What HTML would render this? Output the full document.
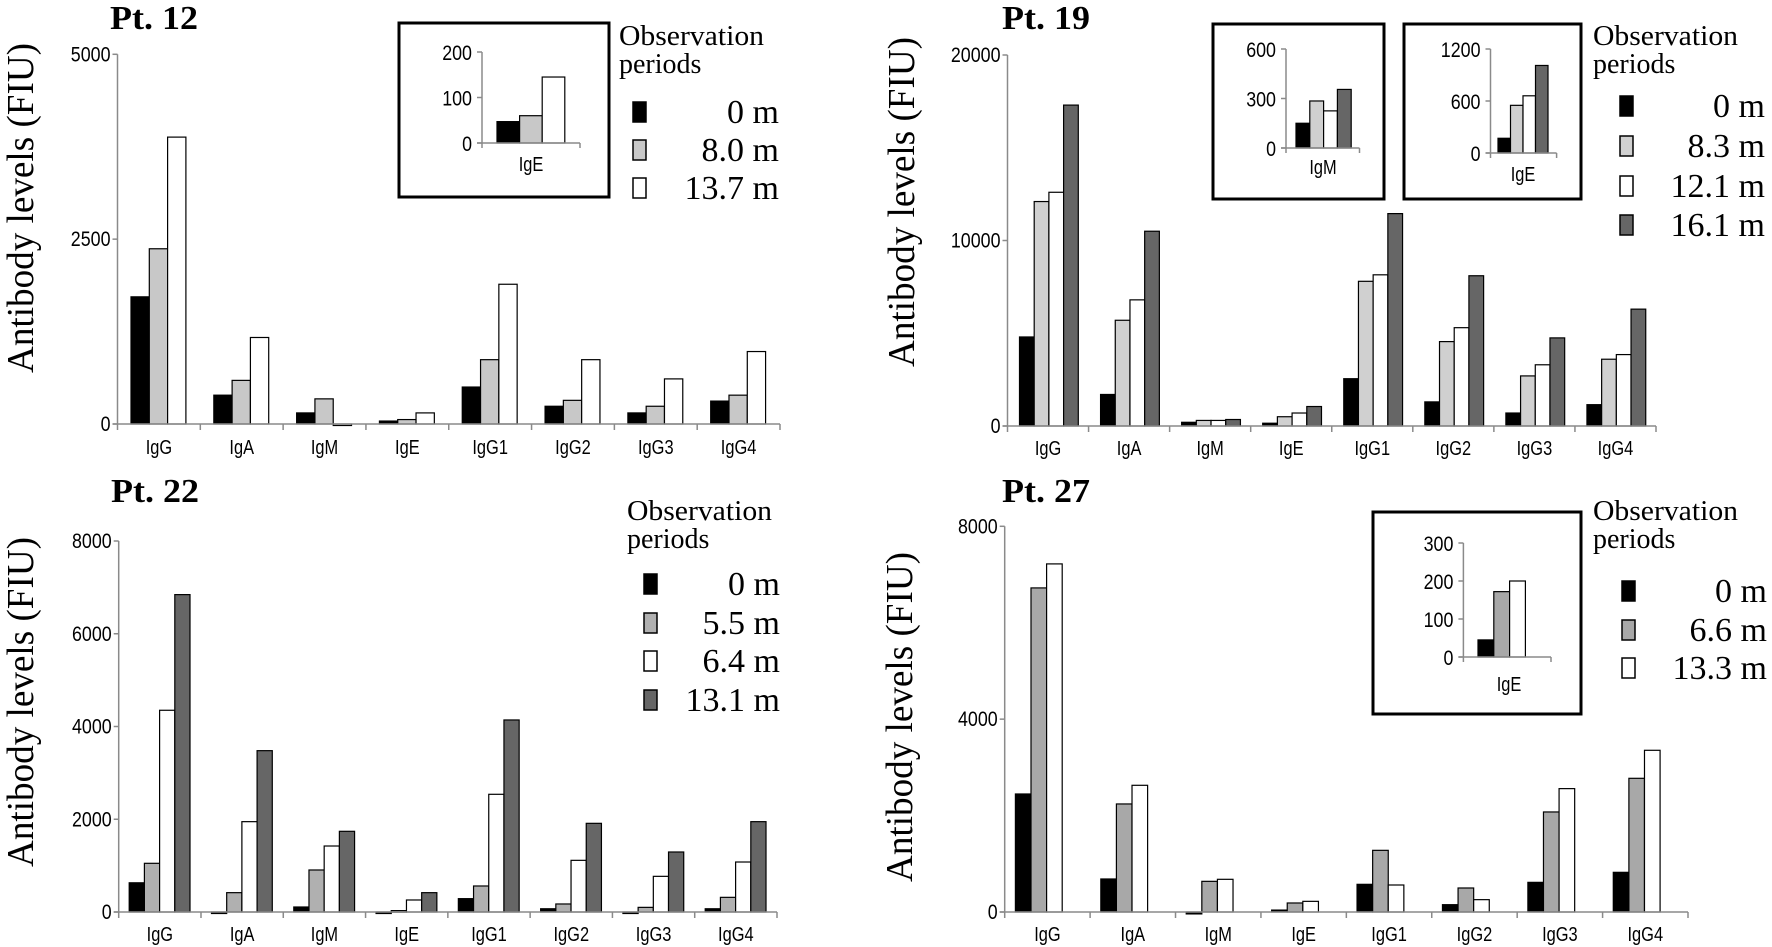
<!DOCTYPE html>
<html><head><meta charset="utf-8"><style>
html,body{margin:0;padding:0;background:#fff;}
svg{display:block;}
.tick{font-family:"Liberation Sans",sans-serif;font-size:21px;fill:#000;}
.cat{font-family:"Liberation Sans",sans-serif;font-size:20px;fill:#000;}
.serif{font-family:"Liberation Serif",serif;fill:#000;}
</style></head><body>
<svg id="fig" width="1772" height="947" viewBox="0 0 1772 947" xmlns="http://www.w3.org/2000/svg"></svg>
<script>
const categories = ['IgG','IgA','IgM','IgE','IgG1','IgG2','IgG3','IgG4'];

const pt12Periods = ['0 m','8.0 m','13.7 m'];
const pt12Month0 = [1720,390,150,40,500,240,150,310];
const pt12Month8 = [2370,590,340,60,870,320,240,390];
const pt12Month13 = [3880,1170,-20,150,1890,870,610,980];
const pt12Ticks = [0,2500,5000];
const pt12InsetIgE = [47,60,145];
const pt12InsetTicks = [0,100,200];

const pt19Periods = ['0 m','8.3 m','12.1 m','16.1 m'];
const pt19Month0 = [4800,1700,200,150,2550,1300,700,1150];
const pt19Month8 = [12100,5700,300,500,7800,4550,2700,3600];
const pt19Month12 = [12600,6800,300,700,8150,5300,3300,3850];
const pt19Month16 = [17300,10500,350,1050,11450,8100,4750,6300];
const pt19Ticks = [0,10000,20000];
const pt19InsetIgM = [150,285,225,355];
const pt19InsetIgMTicks = [0,300,600];
const pt19InsetIgE = [170,550,660,1010];
const pt19InsetIgETicks = [0,600,1200];

const pt22Periods = ['0 m','5.5 m','6.4 m','13.1 m'];
const pt22Month0 = [630,-20,108,-20,288,70,-20,70];
const pt22Month5 = [1050,417,906,30,561,173,100,316];
const pt22Month6 = [4350,1948,1423,259,2538,1114,769,1078];
const pt22Month13 = [6844,3479,1740,417,4141,1912,1294,1948];
const pt22Ticks = [0,2000,4000,6000,8000];

const pt27Periods = ['0 m','6.6 m','13.3 m'];
const pt27Month0 = [2448,685,-40,40,574,152,615,823];
const pt27Month6 = [6722,2241,636,187,1279,498,2075,2773];
const pt27Month13 = [7220,2628,678,221,560,256,2559,3354];
const pt27Ticks = [0,4000,8000];
const pt27InsetIgE = [45,172,200];
const pt27InsetTicks = [0,100,200,300];

const NS='http://www.w3.org/2000/svg';
const svg=document.getElementById('fig');
function mk(tag,attrs,parent){const e=document.createElementNS(NS,tag);for(const k in attrs)e.setAttribute(k,attrs[k]);(parent||svg).appendChild(e);return e;}
function txt(s,attrs,parent){const e=mk('text',attrs,parent);e.textContent=s;return e;}
function narrow(e,f){const w=e.getComputedTextLength();if(w>0){e.setAttribute('textLength',(w*f).toFixed(1));e.setAttribute('lengthAdjust','spacingAndGlyphs');}}

function panel(o){
  const g=mk('g',{});
  
  
  const yScale=v=>o.zero-(v/o.max)*(o.zero-o.top);
  const spacing=(o.right-o.axisX)/categories.length;
  const t=txt(o.title,{x:o.titleX,y:o.titleY,class:'serif','font-size':34,'font-weight':'bold',textLength:88,lengthAdjust:'spacingAndGlyphs'},g);
  
  
  const yl=txt('Antibody levels (FIU)',{x:0,y:0,class:'serif','font-size':38,'text-anchor':'middle',textLength:330,lengthAdjust:'spacingAndGlyphs',transform:`translate(${o.ylX},${o.ylY}) rotate(-90)`},g);
  
  
  o.series.forEach((arr,si)=>{
    arr.forEach((v,ci)=>{
      const x=o.axisX+ci*spacing+o.offset+si*o.bw;
      const y0=yScale(0),y1=yScale(v);
      const r=mk('rect',{x:x,y:Math.min(y0,y1),width:o.bw,height:Math.max(Math.abs(y1-y0),1.5),fill:o.colors[si],stroke:'#000','stroke-width':1.2},g);
      
      
    });
  });
  const ax=mk('line',{x1:o.axisX,y1:o.top,x2:o.axisX,y2:o.zero+6,stroke:'#8a8a8a','stroke-width':1.5},g);
  
  
  const xx=mk('line',{x1:o.axisX-5,y1:o.zero,x2:o.right,y2:o.zero,stroke:'#8a8a8a','stroke-width':1.5},g);
  
  
  o.ticks.forEach(v=>{
    const y=yScale(v);
    mk('line',{x1:o.axisX-5,y1:y,x2:o.axisX,y2:y,stroke:'#8a8a8a','stroke-width':1.5},g);
    const tl=txt(String(v),{x:o.axisX-7,y:y+7,class:'tick','text-anchor':'end'},g);
    
    
    narrow(tl,0.85);
  });
  categories.forEach((c,ci)=>{
    const x=o.axisX+(ci+1)*spacing;
    mk('line',{x1:x,y1:o.zero,x2:x,y2:o.zero+6,stroke:'#8a8a8a','stroke-width':1.5},g);
    const cl=txt(c,{x:o.axisX+(ci+0.5)*spacing,y:o.catY,class:'cat','text-anchor':'middle'},g);
    
    
    narrow(cl,0.82);
  });
  const lg=mk('g',{},g);
  
  
  txt('Observation',{x:o.legX,y:o.legY,class:'serif','font-size':28,textLength:145,lengthAdjust:'spacingAndGlyphs'},lg);
  txt('periods',{x:o.legX,y:o.legY+28,class:'serif','font-size':28},lg);
  o.periods.forEach((p,si)=>{
    const cy=o.legRows[si];
    const sw=mk('rect',{x:o.swX,y:cy-10,width:13,height:20,fill:o.colors[si],stroke:'#000','stroke-width':1.5},lg);
    
    
    const lt=txt(p,{x:o.legRight,y:cy+11,class:'serif','font-size':34,'text-anchor':'end'},lg);
    
    
  });
  (o.insets||[]).forEach(ins=>{
    const ig=mk('g',{},g);
    
    
    mk('rect',{x:ins.box[0],y:ins.box[1],width:ins.box[2],height:ins.box[3],fill:'#fff',stroke:'#000','stroke-width':3},ig);
    const ys=v=>ins.zero-(v/ins.max)*(ins.zero-ins.top);
    ins.values.forEach((v,si)=>{
      const r=mk('rect',{x:ins.barX+si*ins.bw,y:ys(v),width:ins.bw,height:ins.zero-ys(v),fill:o.colors[si],stroke:'#000','stroke-width':1.2},ig);
      
      
    });
    mk('line',{x1:ins.axisX,y1:ins.top,x2:ins.axisX,y2:ins.zero+5,stroke:'#8a8a8a','stroke-width':1.5},ig);
    mk('line',{x1:ins.axisX-5,y1:ins.zero,x2:ins.right,y2:ins.zero,stroke:'#8a8a8a','stroke-width':1.5},ig);
    mk('line',{x1:ins.right,y1:ins.zero,x2:ins.right,y2:ins.zero+5,stroke:'#8a8a8a','stroke-width':1.5},ig);
    ins.ticks.forEach(v=>{
      const y=ys(v);
      mk('line',{x1:ins.axisX-5,y1:y,x2:ins.axisX,y2:y,stroke:'#8a8a8a','stroke-width':1.5},ig);
      const it=txt(String(v),{x:ins.axisX-10,y:y+8,class:'tick','font-size':23,'text-anchor':'end'},ig);
      narrow(it,0.85);
    });
    const il=txt(ins.label,{x:ins.labelX,y:ins.labelY,class:'cat','font-size':19,'text-anchor':'middle'},ig);
    narrow(il,0.82);
  });
}

panel({name:'panel-pt12',title:'Pt. 12',titleX:110,titleY:29,ylX:33,ylY:208,
  axisX:117.5,zero:424,top:54.3,max:5000,right:780,offset:13.5,bw:18.3,catY:454,
  ticks:pt12Ticks,series:[pt12Month0,pt12Month8,pt12Month13],periods:pt12Periods,
  colors:['#000','#c8c8c8','#fff'],
  legX:619,legY:45,swX:633,legRows:[112,150,188],legRight:779,
  insets:[{box:[399,23,210,174],axisX:482,zero:143,top:52,max:200,right:580,barX:497,bw:22.6,values:pt12InsetIgE,ticks:pt12InsetTicks,label:'IgE',labelX:531,labelY:171}]});

panel({name:'panel-pt19',title:'Pt. 19',titleX:1002,titleY:29,ylX:914,ylY:202,
  axisX:1007.5,zero:426,top:55,max:20000,right:1656,offset:12,bw:14.7,catY:455,
  ticks:pt19Ticks,series:[pt19Month0,pt19Month8,pt19Month12,pt19Month16],periods:pt19Periods,
  colors:['#000','#d0d0d0','#fff','#666'],
  legX:1593,legY:45,swX:1620,legRows:[106,146,186,225],legRight:1765,
  insets:[{box:[1213,24,171,175],axisX:1286,zero:148,top:49,max:600,right:1359.5,barX:1296,bw:13.8,values:pt19InsetIgM,ticks:pt19InsetIgMTicks,label:'IgM',labelX:1323,labelY:174},
          {box:[1404,24,177,175],axisX:1490.5,zero:153,top:49,max:1200,right:1556.6,barX:1498,bw:12.5,values:pt19InsetIgE,ticks:pt19InsetIgETicks,label:'IgE',labelX:1523,labelY:181}]});

panel({name:'panel-pt22',title:'Pt. 22',titleX:111,titleY:502,ylX:33,ylY:702,
  axisX:118.7,zero:912,top:541,max:8000,right:777,offset:10.5,bw:15.2,catY:941,
  ticks:pt22Ticks,series:[pt22Month0,pt22Month5,pt22Month6,pt22Month13],periods:pt22Periods,
  colors:['#000','#b0b0b0','#fff','#666'],
  legX:627,legY:520,swX:644,legRows:[584,623,661,700],legRight:780});

panel({name:'panel-pt27',title:'Pt. 27',titleX:1002,titleY:502,ylX:912,ylY:717,
  axisX:1004.7,zero:912,top:526.3,max:8000,right:1688,offset:10.7,bw:15.6,catY:941,
  ticks:pt27Ticks,series:[pt27Month0,pt27Month6,pt27Month13],periods:pt27Periods,
  colors:['#000','#a8a8a8','#fff'],
  legX:1593,legY:520,swX:1622,legRows:[591,630,668],legRight:1767,
  insets:[{box:[1373,512,208,202],axisX:1463.4,zero:657,top:543,max:300,right:1551,barX:1478,bw:15.8,values:pt27InsetIgE,ticks:pt27InsetTicks,label:'IgE',labelX:1509,labelY:691}]});
</script>
</body></html>
